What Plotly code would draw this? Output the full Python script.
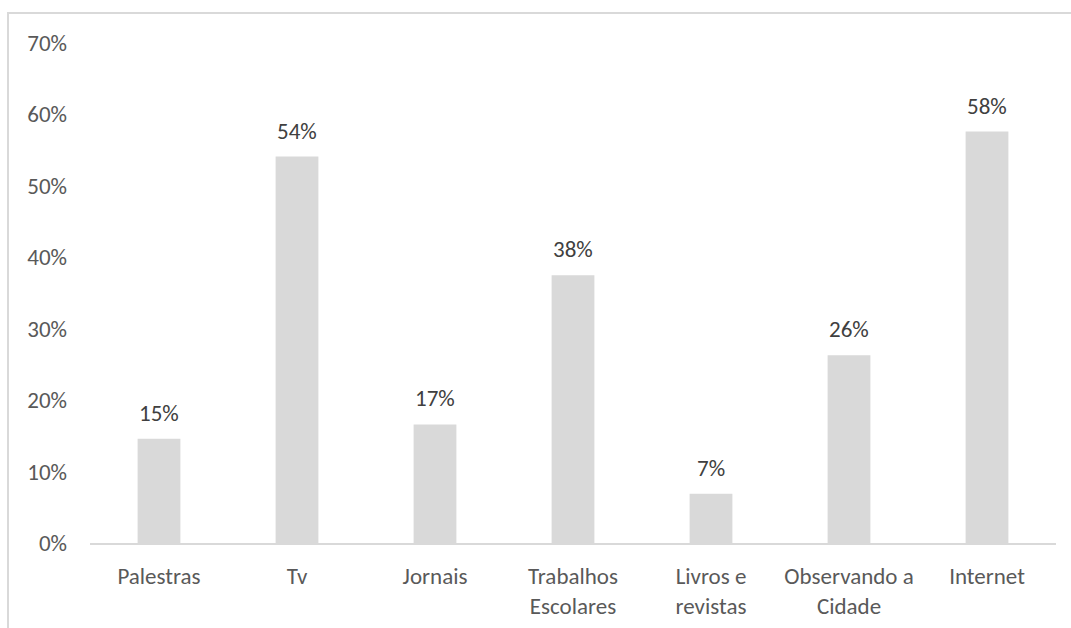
import plotly.graph_objects as go

categories = ["Palestras", "Tv", "Jornais", "Trabalhos<br>Escolares", "Livros e<br>revistas", "Observando a<br>Cidade", "Internet"]
values = [0.146, 0.541, 0.166, 0.375, 0.069, 0.263, 0.576]
y_ticks = [0, 0.1, 0.2, 0.3, 0.4, 0.5, 0.6, 0.7]

FONT = "Carlito, Lato, Liberation Sans, sans-serif"
TXT = "#595959"
FS = 23

fig = go.Figure()
fig.add_trace(go.Bar(
    x=categories, y=values,
    marker=dict(color="#d9d9d9", line=dict(width=0)),
    hoverinfo="skip",
))
for c, v in zip(categories, values):
    fig.add_annotation(x=c, y=v, text=f"{round(v*100):d}%", showarrow=False,
                       yanchor="bottom", yshift=10,
                       font=dict(family=FONT, size=FS, color="#404040"))

fig.update_layout(
    width=1071, height=628,
    margin=dict(l=90, r=15, t=43, b=85),
    paper_bgcolor="white", plot_bgcolor="white",
    bargap=0.69,
    showlegend=False,
    font=dict(family=FONT, size=FS, color=TXT),
)
fig.update_yaxes(
    range=[0, 0.7], tickvals=y_ticks, tickformat=".0%",
    showgrid=False, zeroline=False, showline=False,
    ticks="", ticklabelstandoff=22, automargin=False,
    tickfont=dict(family=FONT, size=FS, color=TXT),
)
fig.update_xaxes(
    showgrid=False, showline=True, linecolor="#d9d9d9", linewidth=2,
    ticks="", ticklabelstandoff=11, automargin=False,
    tickfont=dict(family=FONT, size=FS, color=TXT),
)
# chart border
fig.add_shape(type="rect", xref="paper", yref="paper",
              x0=-0.0849, x1=1.05, y0=-0.3, y1=1.06,
              line=dict(color="#d9d9d9", width=2), fillcolor="rgba(0,0,0,0)", layer="below")

fig.write_html("out.html")
